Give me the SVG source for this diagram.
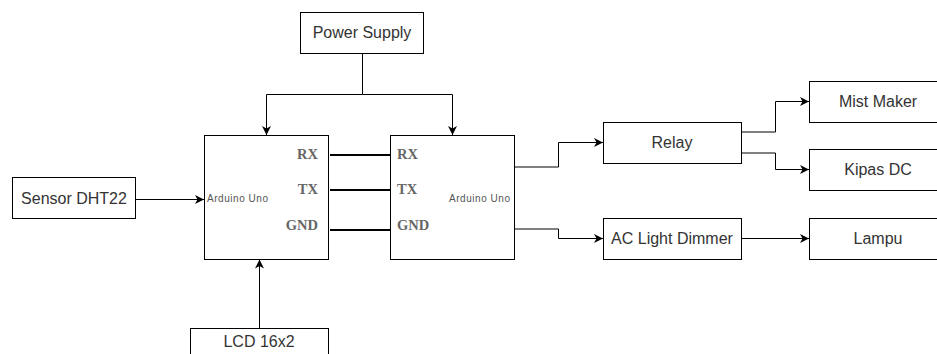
<svg xmlns="http://www.w3.org/2000/svg" width="937" height="354" viewBox="0 0 937 354">
<style>
.box{fill:#fff;stroke:#000;stroke-width:1}
.lbl{font-family:"Liberation Sans",Arial,sans-serif;font-size:16px;fill:#333;text-anchor:middle}
.small{font-family:"Liberation Sans",Arial,sans-serif;font-size:10px;fill:#555}
.pin{font-family:"Liberation Serif","Times New Roman",serif;font-size:14.5px;font-weight:bold;fill:#666}
.wire{fill:none;stroke:#000;stroke-width:1}
.bus{fill:none;stroke:#000;stroke-width:2}
</style>
<defs>
<marker id="arr" markerUnits="userSpaceOnUse" markerWidth="10" markerHeight="10" refX="9" refY="4.5" orient="auto">
<path d="M0,0 L9,4.5 L0,9 L2.5,4.5 z" fill="#000"/>
</marker>
</defs>
<rect width="937" height="354" fill="#fff"/>
<g id="connectors">
<path class="wire" d="M362.5,53 V94.5 H266.5 V135" marker-end="url(#arr)"/>
<path class="wire" d="M362.5,94.5 H452.5 V135" marker-end="url(#arr)"/>
<path class="wire" d="M135,199.5 H204" marker-end="url(#arr)"/>
<path class="wire" d="M259.5,328 V259.5" marker-end="url(#arr)"/>
<path class="bus" d="M330,155 H392"/>
<path class="bus" d="M330,190 H392"/>
<path class="bus" d="M330,230 H392"/>
<path class="wire" d="M514,167 H558.5 V142.5 H603" marker-end="url(#arr)"/>
<path class="wire" d="M514,229 H558.5 V238.5 H603" marker-end="url(#arr)"/>
<path class="wire" d="M741,238.5 H809" marker-end="url(#arr)"/>
<path class="wire" d="M741,132 H775.5 V101.5 H809" marker-end="url(#arr)"/>
<path class="wire" d="M741,153 H775.5 V169.5 H809" marker-end="url(#arr)"/>
</g>
<g id="power-supply">
<rect class="box" x="300.5" y="12.5" width="123" height="41"/>
<text class="lbl" x="362" y="38">Power Supply</text>
</g>
<g id="sensor-dht22">
<rect class="box" x="12.5" y="177.5" width="123" height="41"/>
<text class="lbl" x="74" y="204">Sensor DHT22</text>
</g>
<g id="arduino-1">
<rect class="box" x="204.5" y="135.5" width="124" height="124"/>
<text class="small" x="207" y="202" textLength="61">Arduino Uno</text>
<text class="pin" x="318" y="159" text-anchor="end">RX</text>
<text class="pin" x="318" y="194" text-anchor="end">TX</text>
<text class="pin" x="318" y="230" text-anchor="end">GND</text>
</g>
<g id="arduino-2">
<rect class="box" x="390.5" y="135.5" width="124" height="124"/>
<text class="small" x="449" y="202" textLength="61">Arduino Uno</text>
<text class="pin" x="397" y="159">RX</text>
<text class="pin" x="397" y="194">TX</text>
<text class="pin" x="397" y="230">GND</text>
</g>
<g id="lcd">
<rect class="box" x="190.5" y="328.5" width="138" height="41"/>
<text class="lbl" x="259" y="347">LCD 16x2</text>
</g>
<g id="relay">
<rect class="box" x="603.5" y="122.5" width="138" height="41"/>
<text class="lbl" x="672" y="148">Relay</text>
</g>
<g id="ac-light-dimmer">
<rect class="box" x="603.5" y="218.5" width="138" height="41"/>
<text class="lbl" x="672" y="244">AC Light Dimmer</text>
</g>
<g id="mist-maker">
<rect class="box" x="809.5" y="81.5" width="138" height="41"/>
<text class="lbl" x="878" y="107">Mist Maker</text>
</g>
<g id="kipas-dc">
<rect class="box" x="809.5" y="149.5" width="138" height="41"/>
<text class="lbl" x="878" y="175">Kipas DC</text>
</g>
<g id="lampu">
<rect class="box" x="809.5" y="218.5" width="138" height="41"/>
<text class="lbl" x="878" y="244">Lampu</text>
</g>
</svg>
